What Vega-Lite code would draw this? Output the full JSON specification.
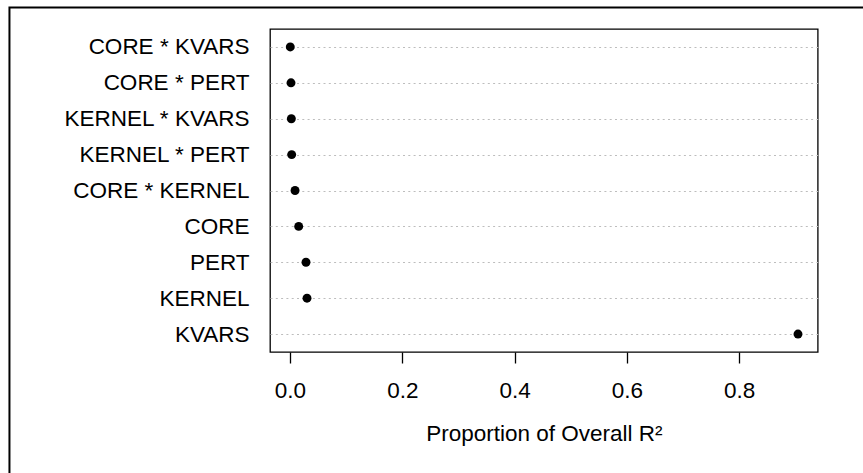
{
  "$schema": "https://vega.github.io/schema/vega-lite/v6.json",
  "width": 547.7,
  "height": 323,
  "autosize": {"type": "none"},
  "padding": {"left": 270, "top": 29, "right": 45.3, "bottom": 121},
  "background": "white",
  "config": {
    "font": "Liberation Sans",
    "view": {"stroke": "black", "strokeWidth": 1.3}
  },
  "layer": [
    {
      "data": {"values": [{}]},
      "mark": {"type": "rect", "fill": null, "stroke": "black", "strokeWidth": 2, "clip": false},
      "encoding": {
        "x": {"datum": -0.4996, "type": "quantitative", "scale": {"domain": [-0.0356, 0.9398], "nice": false, "zero": false}},
        "x2": {"datum": 1.3},
        "y": {"datum": 1.0666, "type": "quantitative", "scale": {"domain": [0, 1], "nice": false, "zero": false}, "axis": null},
        "y2": {"datum": -0.6}
      }
    },
    {
      "data": {
        "values": [
          {"term": "CORE * KVARS", "prop": 0.0005},
          {"term": "CORE * PERT", "prop": 0.0018},
          {"term": "KERNEL * KVARS", "prop": 0.0024},
          {"term": "KERNEL * PERT", "prop": 0.0030},
          {"term": "CORE * KERNEL", "prop": 0.0090},
          {"term": "CORE", "prop": 0.0155},
          {"term": "PERT", "prop": 0.0285},
          {"term": "KERNEL", "prop": 0.0303},
          {"term": "KVARS", "prop": 0.9047}
        ]
      },
      "mark": {"type": "point", "filled": true, "color": "black", "opacity": 1, "size": 80},
      "encoding": {
        "x": {
          "field": "prop",
          "type": "quantitative",
          "scale": {"domain": [-0.0356, 0.9398], "nice": false, "zero": false},
          "axis": {
            "values": [0, 0.2, 0.4, 0.6, 0.8],
            "format": ".1f",
            "title": "Proportion of Overall R²",
            "grid": false,
            "domain": false,
            "tickColor": "black",
            "tickSize": 11,
            "tickWidth": 1.3,
            "labelFontSize": 22.5,
            "labelColor": "black",
            "labelPadding": 16,
            "titleFontSize": 22.5,
            "titleFontWeight": "normal",
            "titleColor": "black",
            "titlePadding": 21
          }
        },
        "y": {
          "field": "term",
          "type": "nominal",
          "sort": ["CORE * KVARS", "CORE * PERT", "KERNEL * KVARS", "KERNEL * PERT", "CORE * KERNEL", "CORE", "PERT", "KERNEL", "KVARS"],
          "scale": {"type": "point", "padding": 0.5},
          "axis": {
            "title": null,
            "domain": false,
            "ticks": false,
            "tickSize": 0,
            "labelPadding": 21,
            "labelFontSize": 22.5,
            "labelLimit": 400,
            "labelColor": "black",
            "grid": true,
            "gridColor": "#bdbdbd",
            "gridDash": [2, 3.3],
            "gridWidth": 1
          }
        }
      }
    }
  ],
  "resolve": {"scale": {"y": "independent"}}
}
